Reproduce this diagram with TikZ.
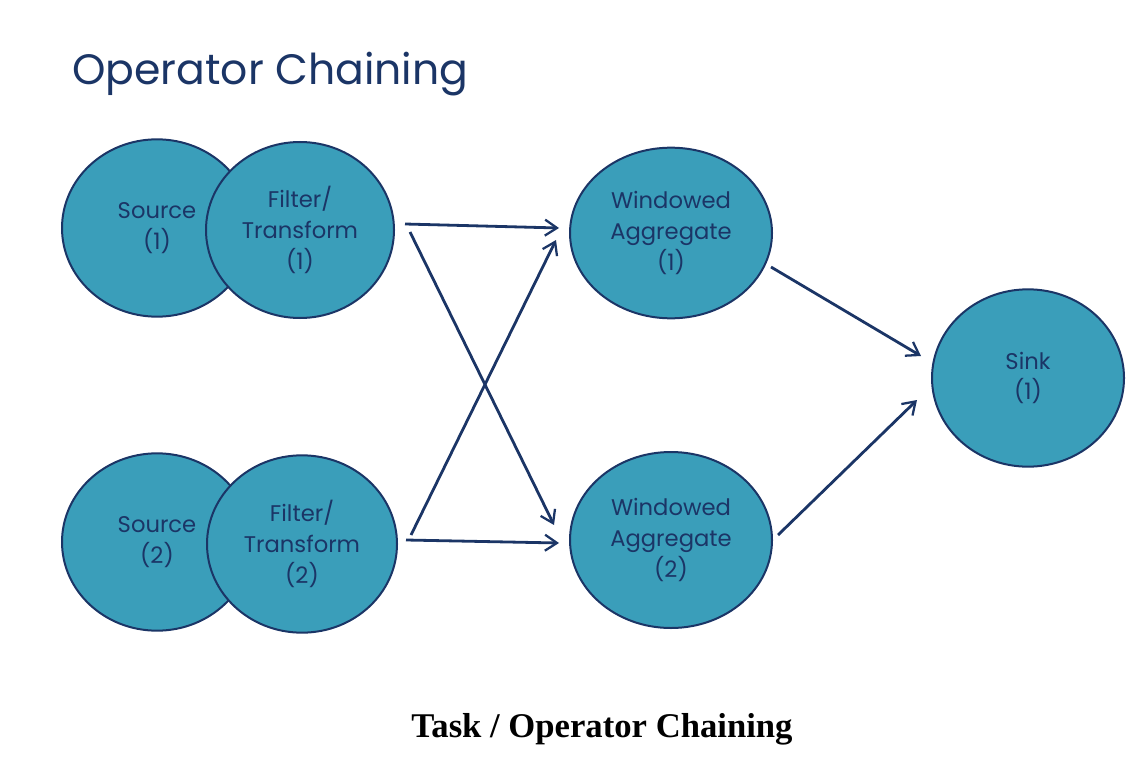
\documentclass[tikz,border=0pt]{standalone}
\usepackage{fontspec}
\setmainfont{Liberation Serif}
\newfontfamily\handfont{Poppins}
\usetikzlibrary{shapes.geometric,arrows.meta,calc}
\definecolor{tealfill}{HTML}{3A9EBA}
\definecolor{navy}{HTML}{1B3566}
\tikzset{
  opnode/.style={ellipse, draw=navy, fill=tealfill, line width=1.5pt, inner sep=0pt,
    text=navy, align=center, font=\handfont\fontsize{17}{23}\selectfont},
  flow/.style={draw=navy, line width=2.1pt, -{Straight Barb[length=9pt,width=12pt,line width=1.7pt]}},
}
\begin{document}
\begin{tikzpicture}[x=0.75pt,y=-0.75pt]
\useasboundingbox (0,0) rectangle (1144,784);
% title
\node[anchor=base west, inner sep=0pt, text=navy] (title) at (72,85)
  {\resizebox{297pt}{!}{\handfont\fontsize{34}{40}\selectfont Operator Chaining}};
% nodes
\node[opnode, minimum width=142.5pt, minimum height=133pt] (s1) at (157,228) {Source\\(1)};
\node[opnode, minimum width=141pt, minimum height=132pt] (f1) at (300,230) {Filter/\\Transform\\(1)};
\node[opnode, minimum width=142.5pt, minimum height=133pt] (s2) at (157,542) {Source\\(2)};
\node[opnode, minimum width=142.5pt, minimum height=133pt] (f2) at (302,544) {Filter/\\Transform\\(2)};
\node[opnode, minimum width=151.5pt, minimum height=128pt] (wa1) at (671,233) {Windowed\\Aggregate\\(1)};
\node[opnode, minimum width=151.5pt, minimum height=132pt] (wa2) at (671,540) {Windowed\\Aggregate\\(2)};
\node[opnode, minimum width=144pt, minimum height=133pt] (sink) at (1028,378) {Sink\\(1)};
% connectors
\draw[flow] ($(f1.east)+(10,-6)$) -- ($(wa1.west)+(-10,-5)$);
\draw[flow] ($(f1.east)+(15,2)$) -- ($(wa2.west)+(-15,-15)$);
\draw[flow] ($(f2.east)+(13,-9)$) -- ($(wa1.west)+(-13,7)$);
\draw[flow] ($(f2.east)+(8,-4)$) -- ($(wa2.west)+(-10,3)$);
\draw[flow] ($(wa1.east)+(-2,34)$) -- ($(sink.west)+(-10,-22)$);
\draw[flow] ($(wa2.east)+(5,-5)$) -- ($(sink.west)+(-14,22)$);
% caption
\node[anchor=base, inner sep=0pt, font=\bfseries\fontsize{26}{30}\selectfont] (caption) at (602,737) {Task / Operator Chaining};
\end{tikzpicture}
\end{document}
